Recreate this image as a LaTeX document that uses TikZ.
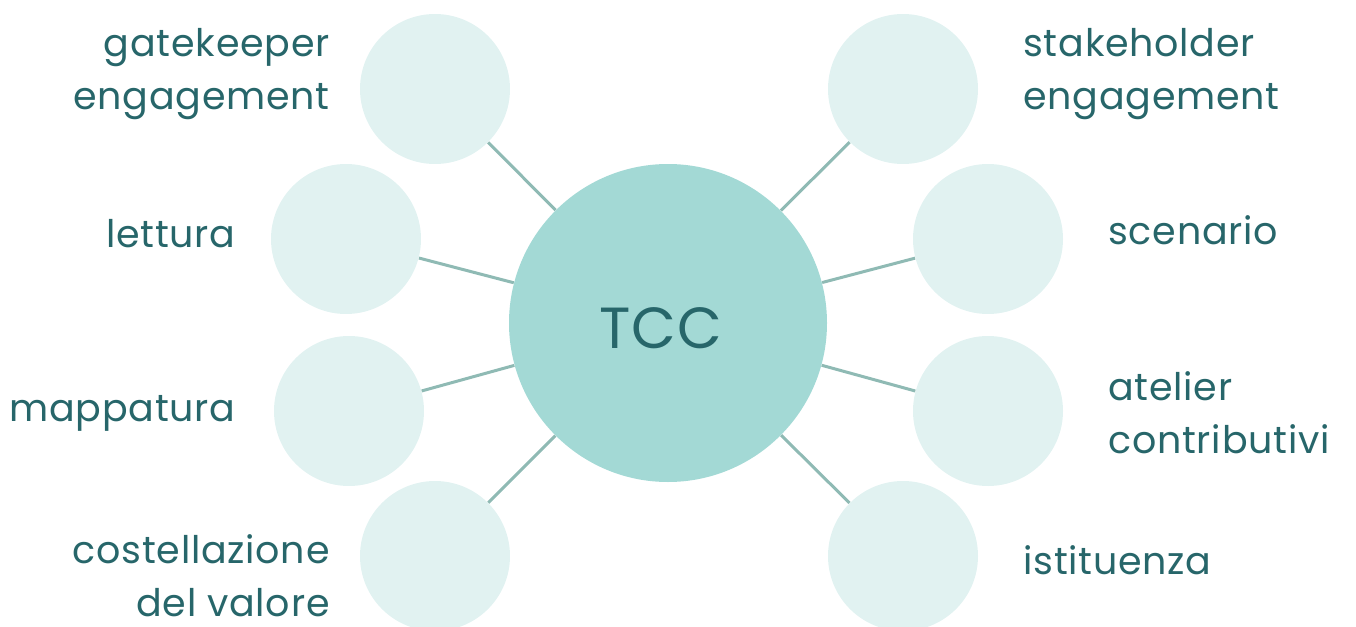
\documentclass[tikz,border=0pt]{standalone}
\usepackage{fontspec}
\setmainfont{Poppins}[LetterSpace=2]
\usetikzlibrary{positioning}

\definecolor{smallfill}{HTML}{E1F2F1}
\definecolor{bigfill}{HTML}{A3D9D5}
\definecolor{labeltext}{HTML}{27666A}
\definecolor{spoke}{HTML}{8FBAB4}

\begin{document}
\begin{tikzpicture}[x=0.5pt, y=-0.5pt,
    bubble/.style={circle, fill=smallfill, minimum size=75pt, inner sep=0pt},
    hub/.style={circle, fill=bigfill, minimum size=159pt, inner sep=0pt},
    lbl/.style={text=labeltext, inner sep=0pt, font=\fontsize{19}{26.5}\selectfont},
    link/.style={draw=spoke, line width=1.5pt}]
        \useasboundingbox (0,0) rectangle (1356,627);

        \node[hub] (tcc) at (668, 323) {};
        \node[text=labeltext, font=\fontsize{29}{34}\selectfont] (tcctext) at (661, 328) {TCC};

        \node[bubble] (b1) at (435, 89) {};
        \node[bubble] (b2) at (346, 239) {};
        \node[bubble] (b3) at (349, 411) {};
        \node[bubble] (b4) at (435, 556) {};
        \node[bubble] (b5) at (903, 89) {};
        \node[bubble] (b6) at (988, 239) {};
        \node[bubble] (b7) at (988, 411) {};
        \node[bubble] (b8) at (903, 556) {};

        \foreach \b in {b1, b2, b3, b4, b5, b6, b7, b8}
            \draw[link] (\b) -- (tcc);

        % labels left
        \node[lbl, align=right, anchor=east] (t1) at (330, 74) {gatekeeper\\engagement};
        \node[lbl, anchor=base east] (t2) at (236, 247) {lettura};
        \node[lbl, anchor=base east] (t3) at (236, 421) {mappatura};
        \node[lbl, align=right, anchor=east] (t4) at (330, 576) {costellazione\\del valore};
        % labels right
        \node[lbl, align=left, anchor=west] (t5) at (1023, 74) {stakeholder\\engagement};
        \node[lbl, anchor=base west] (t6) at (1108, 244) {scenario};
        \node[lbl, align=left, anchor=west] (t7) at (1108, 413) {atelier\\contributivi};
        \node[lbl, anchor=base west] (t8) at (1023, 574) {istituenza};
    \end{tikzpicture}
\end{document}
